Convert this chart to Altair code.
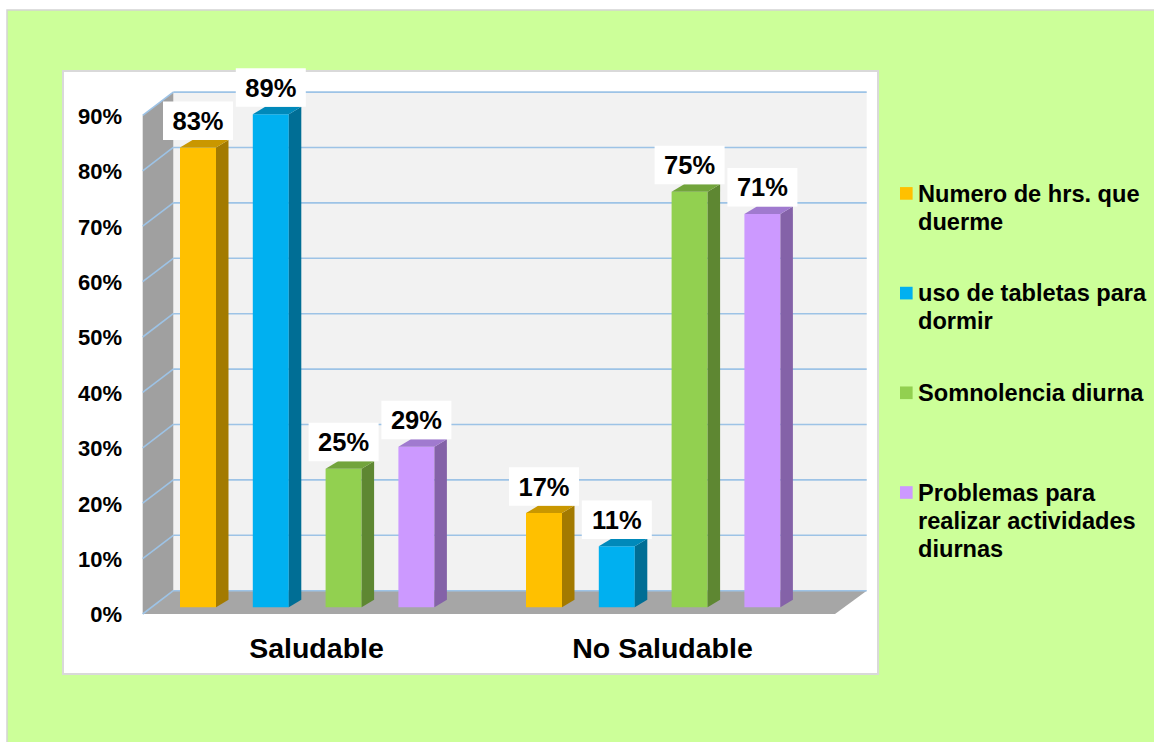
import altair as alt
import pandas as pd

# ---------------- data ----------------
categories = ["Saludable", "No Saludable"]
series = [
    "Numero de hrs. que duerme",
    "uso de tabletas para dormir",
    "Somnolencia diurna",
    "Problemas para realizar actividades diurnas",
]
legend_labels = [
    "Numero de hrs. que\nduerme",
    "uso de tabletas para\ndormir",
    "Somnolencia diurna",
    "Problemas para\nrealizar actividades\ndiurnas",
]
values_saludable = [83, 89, 25, 29]
values_no_saludable = [17, 11, 75, 71]
y_ticks = [0, 10, 20, 30, 40, 50, 60, 70, 80, 90]

front_colors = ["#FFC000", "#00B0F0", "#92D050", "#CC99FF"]
side_colors = ["#A37A00", "#006E95", "#5E8732", "#8462A8"]
top_colors = ["#C99700", "#0089BA", "#72A43C", "#A07ACF"]

# ---------------- layout (pixel geometry of the 3D frame) ----------------
W, H = 815, 603
PAD_L, PAD_T = 63, 71
PX_PER_PCT = 5.54
ZERO_Y = 607.3


def X(px):
    return px - PAD_L


def Y(py):
    return (ZERO_Y - py) / PX_PER_PCT


XDOM = [0, W]
YDOM = [Y(PAD_T + H), Y(PAD_T)]

BAR_W = 36
DEPTH_X = 12.5
DEPTH_Y = 7.5 / PX_PER_PCT
FIRST_BAR = 180
BAR_STEP = 72.8
GROUP_STEP = 346

BACK_L, BACK_R = 173.3, 866.7
FRONT_L, FRONT_R = 142.7, 835
BACK_OFF = 3.0          # back wall offset in % units
FRONT_OFF = -1.21       # front edge offset in % units
WALL_TOP = 90


def xs(field):
    return alt.X(field, type="quantitative", scale=alt.Scale(domain=XDOM, nice=False, zero=False), axis=None)


def ys(field):
    return alt.Y(field, type="quantitative", scale=alt.Scale(domain=YDOM, nice=False, zero=False), axis=None)


FONT = "Liberation Sans"

# ---------------- background panels ----------------
bg_df = pd.DataFrame([
    {"x": X(7), "x2": X(1170), "y": Y(10), "y2": Y(760), "fill": "#CCFF99"},
])
bg = alt.Chart(bg_df).mark_rect(stroke="#D4D4D4", strokeWidth=1.5).encode(
    x=xs("x"), x2="x2", y=ys("y"), y2="y2", color=alt.Color("fill:N", scale=None)
)

panel_df = pd.DataFrame([
    {"x": X(63), "x2": X(878), "y": Y(71), "y2": Y(674), "fill": "#FFFFFF"},
])
panel = alt.Chart(panel_df).mark_rect(stroke="#D9D9D9", strokeWidth=2).encode(
    x=xs("x"), x2="x2", y=ys("y"), y2="y2", color=alt.Color("fill:N", scale=None)
)

backwall_df = pd.DataFrame([
    {"x": X(BACK_L), "x2": X(BACK_R), "y": 0 + BACK_OFF, "y2": WALL_TOP + BACK_OFF}
])
backwall = alt.Chart(backwall_df).mark_rect(color="#F2F2F2").encode(
    x=xs("x"), x2="x2", y=ys("y"), y2="y2"
)

leftwall_df = pd.DataFrame([
    {"x": X(FRONT_L), "y": 0 + FRONT_OFF, "y2": WALL_TOP + FRONT_OFF},
    {"x": X(BACK_L), "y": 0 + BACK_OFF, "y2": WALL_TOP + BACK_OFF},
])
leftwall = alt.Chart(leftwall_df).mark_area(color="#A0A0A0", orient="vertical").encode(
    x=xs("x"), y=ys("y"), y2="y2"
)

floor_df = pd.DataFrame([
    {"y": 0 + FRONT_OFF, "x": X(FRONT_L), "x2": X(FRONT_R)},
    {"y": 0 + BACK_OFF, "x": X(BACK_L), "x2": X(BACK_R)},
])
floor = alt.Chart(floor_df).mark_area(color="#A6A6A6", orient="horizontal").encode(
    y=ys("y"), x=xs("x"), x2="x2"
)

grid_df = pd.DataFrame([
    {"x": X(BACK_L), "x2": X(BACK_R), "y": t + BACK_OFF, "y2": t + BACK_OFF} for t in y_ticks
])
grid = alt.Chart(grid_df).mark_rule(color="#9DC3E6", strokeWidth=1.6).encode(
    x=xs("x"), x2="x2", y=ys("y"), y2="y2"
)
diag_df = pd.DataFrame([
    {"x": X(BACK_L), "x2": X(FRONT_L), "y": t + BACK_OFF, "y2": t + FRONT_OFF} for t in y_ticks
])
diag = alt.Chart(diag_df).mark_rule(color="#9DC3E6", strokeWidth=1.6).encode(
    x=xs("x"), x2="x2", y=ys("y"), y2="y2"
)

# ---------------- bars ----------------
front_rows, side_rows, top_rows, lab_rows = [], [], [], []
all_values = [values_saludable, values_no_saludable]
for gi, cat in enumerate(categories):
    for si, s in enumerate(series):
        v = all_values[gi][si]
        xl = FIRST_BAR + gi * GROUP_STEP + si * BAR_STEP
        bid = f"{gi}-{si}"
        front_rows.append({"x": X(xl), "x2": X(xl + BAR_W), "y": 0, "y2": v,
                           "c": front_colors[si], "serie": s, "cat": cat})
        side_rows.append({"id": bid, "x": X(xl + BAR_W), "y": 0, "y2": v, "c": side_colors[si]})
        side_rows.append({"id": bid, "x": X(xl + BAR_W + DEPTH_X), "y": DEPTH_Y, "y2": v + DEPTH_Y,
                          "c": side_colors[si]})
        top_rows.append({"id": bid, "y": v, "x": X(xl), "x2": X(xl + BAR_W), "c": top_colors[si]})
        top_rows.append({"id": bid, "y": v + DEPTH_Y, "x": X(xl + DEPTH_X),
                         "x2": X(xl + BAR_W + DEPTH_X), "c": top_colors[si]})
        cx = xl + BAR_W / 2
        lab_rows.append({"x": X(cx - 35), "x2": X(cx + 35), "cx": X(cx),
                         "y": v + 1.35, "y2": v + 8.3, "ty": v + 4.6,
                         "text": f"{v}%"})

front = alt.Chart(pd.DataFrame(front_rows)).mark_rect().encode(
    x=xs("x"), x2="x2", y=ys("y"), y2="y2", color=alt.Color("c:N", scale=None),
    tooltip=["cat:N", "serie:N", "y2:Q"]
)
side = alt.Chart(pd.DataFrame(side_rows)).mark_area(orient="vertical").encode(
    x=xs("x"), y=ys("y"), y2="y2", color=alt.Color("c:N", scale=None), detail="id:N"
)
top = alt.Chart(pd.DataFrame(top_rows)).mark_area(orient="horizontal").encode(
    y=ys("y"), x=xs("x"), x2="x2", color=alt.Color("c:N", scale=None), detail="id:N"
)

lab_df = pd.DataFrame(lab_rows)
lab_box = alt.Chart(lab_df).mark_rect(color="#FFFFFF").encode(
    x=xs("x"), x2="x2", y=ys("y"), y2="y2"
)
lab_text = alt.Chart(lab_df).mark_text(
    font=FONT, fontSize=25.5, fontWeight="bold", color="#000000", baseline="middle", align="center"
).encode(x=xs("cx"), y=ys("ty"), text="text:N")

# ---------------- axis labels ----------------
ytick_df = pd.DataFrame([{"x": X(122), "y": t + FRONT_OFF - 0.25, "text": f"{t}%"} for t in y_ticks])
ytext = alt.Chart(ytick_df).mark_text(
    font=FONT, fontSize=22, fontWeight="bold", color="#000000", align="right", baseline="middle"
).encode(x=xs("x"), y=ys("y"), text="text:N")

cat_df = pd.DataFrame([
    {"x": X(FIRST_BAR + gi * GROUP_STEP + 136.5), "y": Y(649), "text": c}
    for gi, c in enumerate(categories)
])
cattext = alt.Chart(cat_df).mark_text(
    font=FONT, fontSize=28.5, fontWeight="bold", color="#000000", align="center", baseline="middle"
).encode(x=xs("x"), y=ys("y"), text="text:N")

# ---------------- legend ----------------
leg_rows = []
for i, lab in enumerate(legend_labels):
    cy = 193.4 + i * 99.7
    leg_rows.append({"sx": X(906.3), "sy": Y(cy), "tx": X(918), "ty": Y(cy + 8.2),
                     "c": front_colors[i], "text": lab})
leg_df = pd.DataFrame(leg_rows)
leg_sq = alt.Chart(leg_df).mark_square(size=160, opacity=1, filled=True).encode(
    x=xs("sx"), y=ys("sy"), color=alt.Color("c:N", scale=None)
)
leg_txt = alt.Chart(leg_df).mark_text(
    font=FONT, fontSize=23.6, fontWeight="bold", color="#000000", align="left",
    baseline="alphabetic", lineBreak="\n", lineHeight=28
).encode(x=xs("tx"), y=ys("ty"), text="text:N")

chart = alt.layer(
    bg, panel, backwall, leftwall, floor, grid, diag,
    front, side, top, lab_box, lab_text, ytext, cattext, leg_sq, leg_txt
).properties(
    width=W, height=H,
    padding={"left": PAD_L, "top": PAD_T, "right": 1154 - PAD_L - W, "bottom": 742 - PAD_T - H},
    autosize=alt.AutoSizeParams(type="none"),
    background="#FFFFFF",
).configure_view(strokeWidth=0)

chart.save("out.html", embed_options={"renderer": "svg", "actions": False})
